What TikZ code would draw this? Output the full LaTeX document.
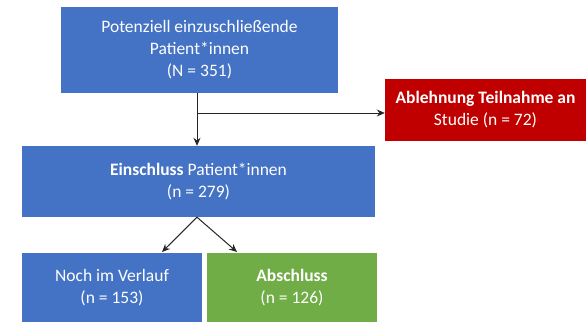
\documentclass[tikz,border=0pt]{standalone}
\usepackage{fontspec}
\setmainfont{Carlito}
\usetikzlibrary{arrows.meta,positioning}
\definecolor{boxblue}{HTML}{4472C4}
\definecolor{boxred}{HTML}{C00000}
\definecolor{boxgreen}{HTML}{70AD47}
\definecolor{linegray}{HTML}{262626}

\begin{document}
\begin{tikzpicture}[x=1pt,y=-1pt,
    box/.style={fill=#1, text=white, align=center, inner sep=0pt,
      font=\fontsize{17.5}{22}\selectfont},
    link/.style={draw=linegray, line width=1pt, -{Stealth[length=8pt,width=7pt]}}]
  \useasboundingbox (0,0) rectangle (586,322);

  \node[box=boxblue, minimum width=277pt, minimum height=86pt] (pot) at (199.5,50)
    {Potenziell einzuschließende\\Patient*innen\\(N = 351)};                    % all patients
  \node[box=boxred, minimum width=201pt, minimum height=62pt] (ablehn) at (485.5,110)
    {\textbf{Ablehnung Teilnahme an}\\Studie (n = 72)};                          % refused
  \node[box=boxblue, minimum width=353pt, minimum height=71pt] (einschl) at (198.5,181.5)
    {\textbf{Einschluss} Patient*innen\\(n = 279)};                              % included
  \node[box=boxblue, minimum width=180pt, minimum height=69pt] (verlauf) at (112,287.5)
    {Noch im Verlauf\\(n = 153)};
  \node[box=boxgreen, minimum width=170pt, minimum height=69pt] (abschl) at (292,287.5)
    {\textbf{Abschluss}\\(n = 126)};

  \coordinate (branch) at (197,113);   % split towards refusal
  \coordinate (toverlauf) at (162,252);
  \coordinate (toabschl) at (237,252);

  \draw[link] (pot.south -| branch) -- (einschl.north -| branch);
  \draw[link] (branch) -- (branch -| ablehn.west);
  \draw[link] (einschl.south -| branch) -- (toverlauf);
  \draw[link] (einschl.south -| branch) -- (toabschl);
\end{tikzpicture}
\end{document}
